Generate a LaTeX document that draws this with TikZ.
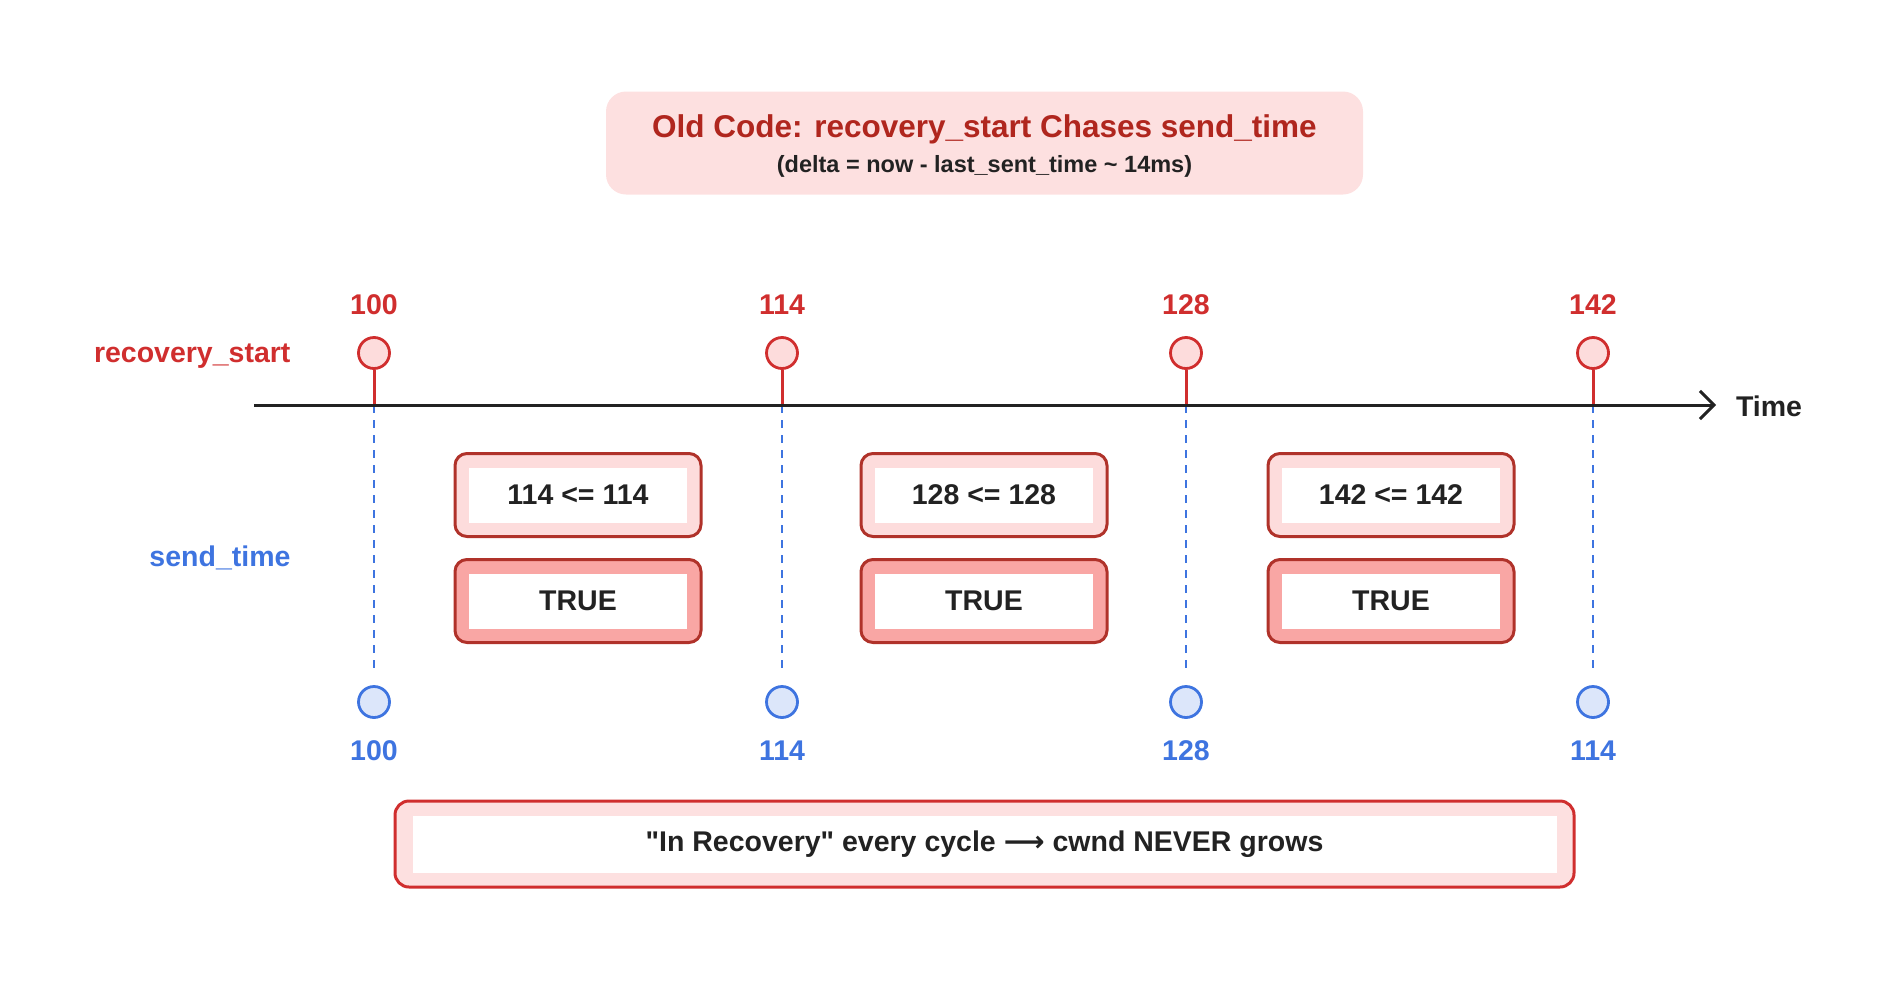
\documentclass[tikz,border=0pt]{standalone}
\usepackage{fontspec}
\setmainfont{Liberation Sans}
\newfontfamily\arrowfont{DejaVu Sans}
\usetikzlibrary{arrows.meta}
\definecolor{oldRed}{RGB}{176,38,30}
\definecolor{markRed}{RGB}{208,46,46}
\definecolor{markPink}{RGB}{253,220,220}
\definecolor{boxStroke}{RGB}{176,50,42}
\definecolor{truePink}{RGB}{249,166,164}
\definecolor{bannerPink}{RGB}{253,224,224}
\definecolor{sendBlue}{RGB}{62,116,224}
\definecolor{sendFill}{RGB}{220,230,250}
\definecolor{axisInk}{RGB}{34,34,34}
\tikzset{
  markdot/.style={circle,draw=#1,line width=2.8pt,minimum size=31pt,inner sep=0pt},
  bigtext/.style={font=\fontsize{28.5}{32}\selectfont\bfseries},
  checkbox/.style={rectangle,rounded corners=12pt,draw=boxStroke,line width=3pt,
    minimum width=246pt,minimum height=83pt,inner sep=0pt},
  innerbox/.style={rectangle,fill=white,minimum width=218pt,minimum height=55pt,
    inner sep=0pt,bigtext,text=axisInk},
}
\newcommand{\comparepair}[3]{%
  \node[checkbox,fill=markPink] (cmp#1) at (#2,495) {};
  \node[innerbox] (cmpt#1) at (cmp#1.center) {#3};
  \node[checkbox,fill=truePink] (res#1) at (#2,601) {};
  \node[innerbox] (rest#1) at (res#1.center) {TRUE};
}

\begin{document}
\begin{tikzpicture}[x=1pt,y=-1pt]
  \useasboundingbox (0,0) rectangle (1900,980);
  % heading
  \node[fill=bannerPink,rounded corners=20pt,minimum width=757pt,minimum height=103pt] (titlebox) at (984.5,143) {};
  \node[font=\fontsize{31.5}{36}\selectfont\bfseries,text=oldRed] (title) at (984.5,129) {Old Code: recovery\_start Chases send\_time};
  \node[font=\fontsize{23.5}{28}\selectfont\bfseries,text=axisInk] (subtitle) at (984.5,166) {(delta = now - last\_sent\_time \textasciitilde{} 14ms)};
  % row labels
  \node[bigtext,text=markRed,anchor=east] (rslabel) at (294,356) {recovery\_start};
  \node[bigtext,text=sendBlue,anchor=east] (stlabel) at (294,558) {send\_time};
  % ticks
  \foreach \i/\x/\r/\s in {1/374/100/100,2/782/114/114,3/1186/128/128,4/1593/142/114}{
    \coordinate (ax\i) at (\x,405);
    \node[markdot=markRed,fill=markPink] (rs\i) at (\x,353) {};
    \node[bigtext,text=markRed] (rsn\i) at (\x,305) {\r};
    \node[markdot=sendBlue,fill=sendFill] (st\i) at (\x,702) {};
    \node[bigtext,text=sendBlue] (stn\i) at (\x,751) {\s};
    \draw[sendBlue,line width=2pt,dash pattern=on 8pt off 7pt] (ax\i) -- ([yshift=12pt]st\i.north);
    \draw[markRed,line width=3pt] (rs\i.south) -- (ax\i);
  }
  % time axis
  \coordinate (axL) at (254,405);
  \coordinate (axR) at (1716,405);
  \draw[axisInk,line width=3pt,-{Straight Barb[length=14pt,width=28pt]}] (axL) -- (axR);
  \node[bigtext,text=axisInk] (timelabel) at (1769,406) {Time};
  % comparisons
  \comparepair{1}{578}{114 <= 114}
  \comparepair{2}{984}{128 <= 128}
  \comparepair{3}{1391}{142 <= 142}
  % verdict
  \node[rectangle,rounded corners=14pt,draw=markRed,line width=3pt,fill=bannerPink,
    minimum width=1179pt,minimum height=86pt] (verdict) at (984.5,844) {};
  \node[innerbox,minimum width=1144pt,minimum height=57pt] (verdicttext) at (verdict.center)
    {\textquotedbl In Recovery\textquotedbl{} every cycle {\arrowfont\bfseries ⟶} cwnd NEVER grows};
\end{tikzpicture}
\end{document}
